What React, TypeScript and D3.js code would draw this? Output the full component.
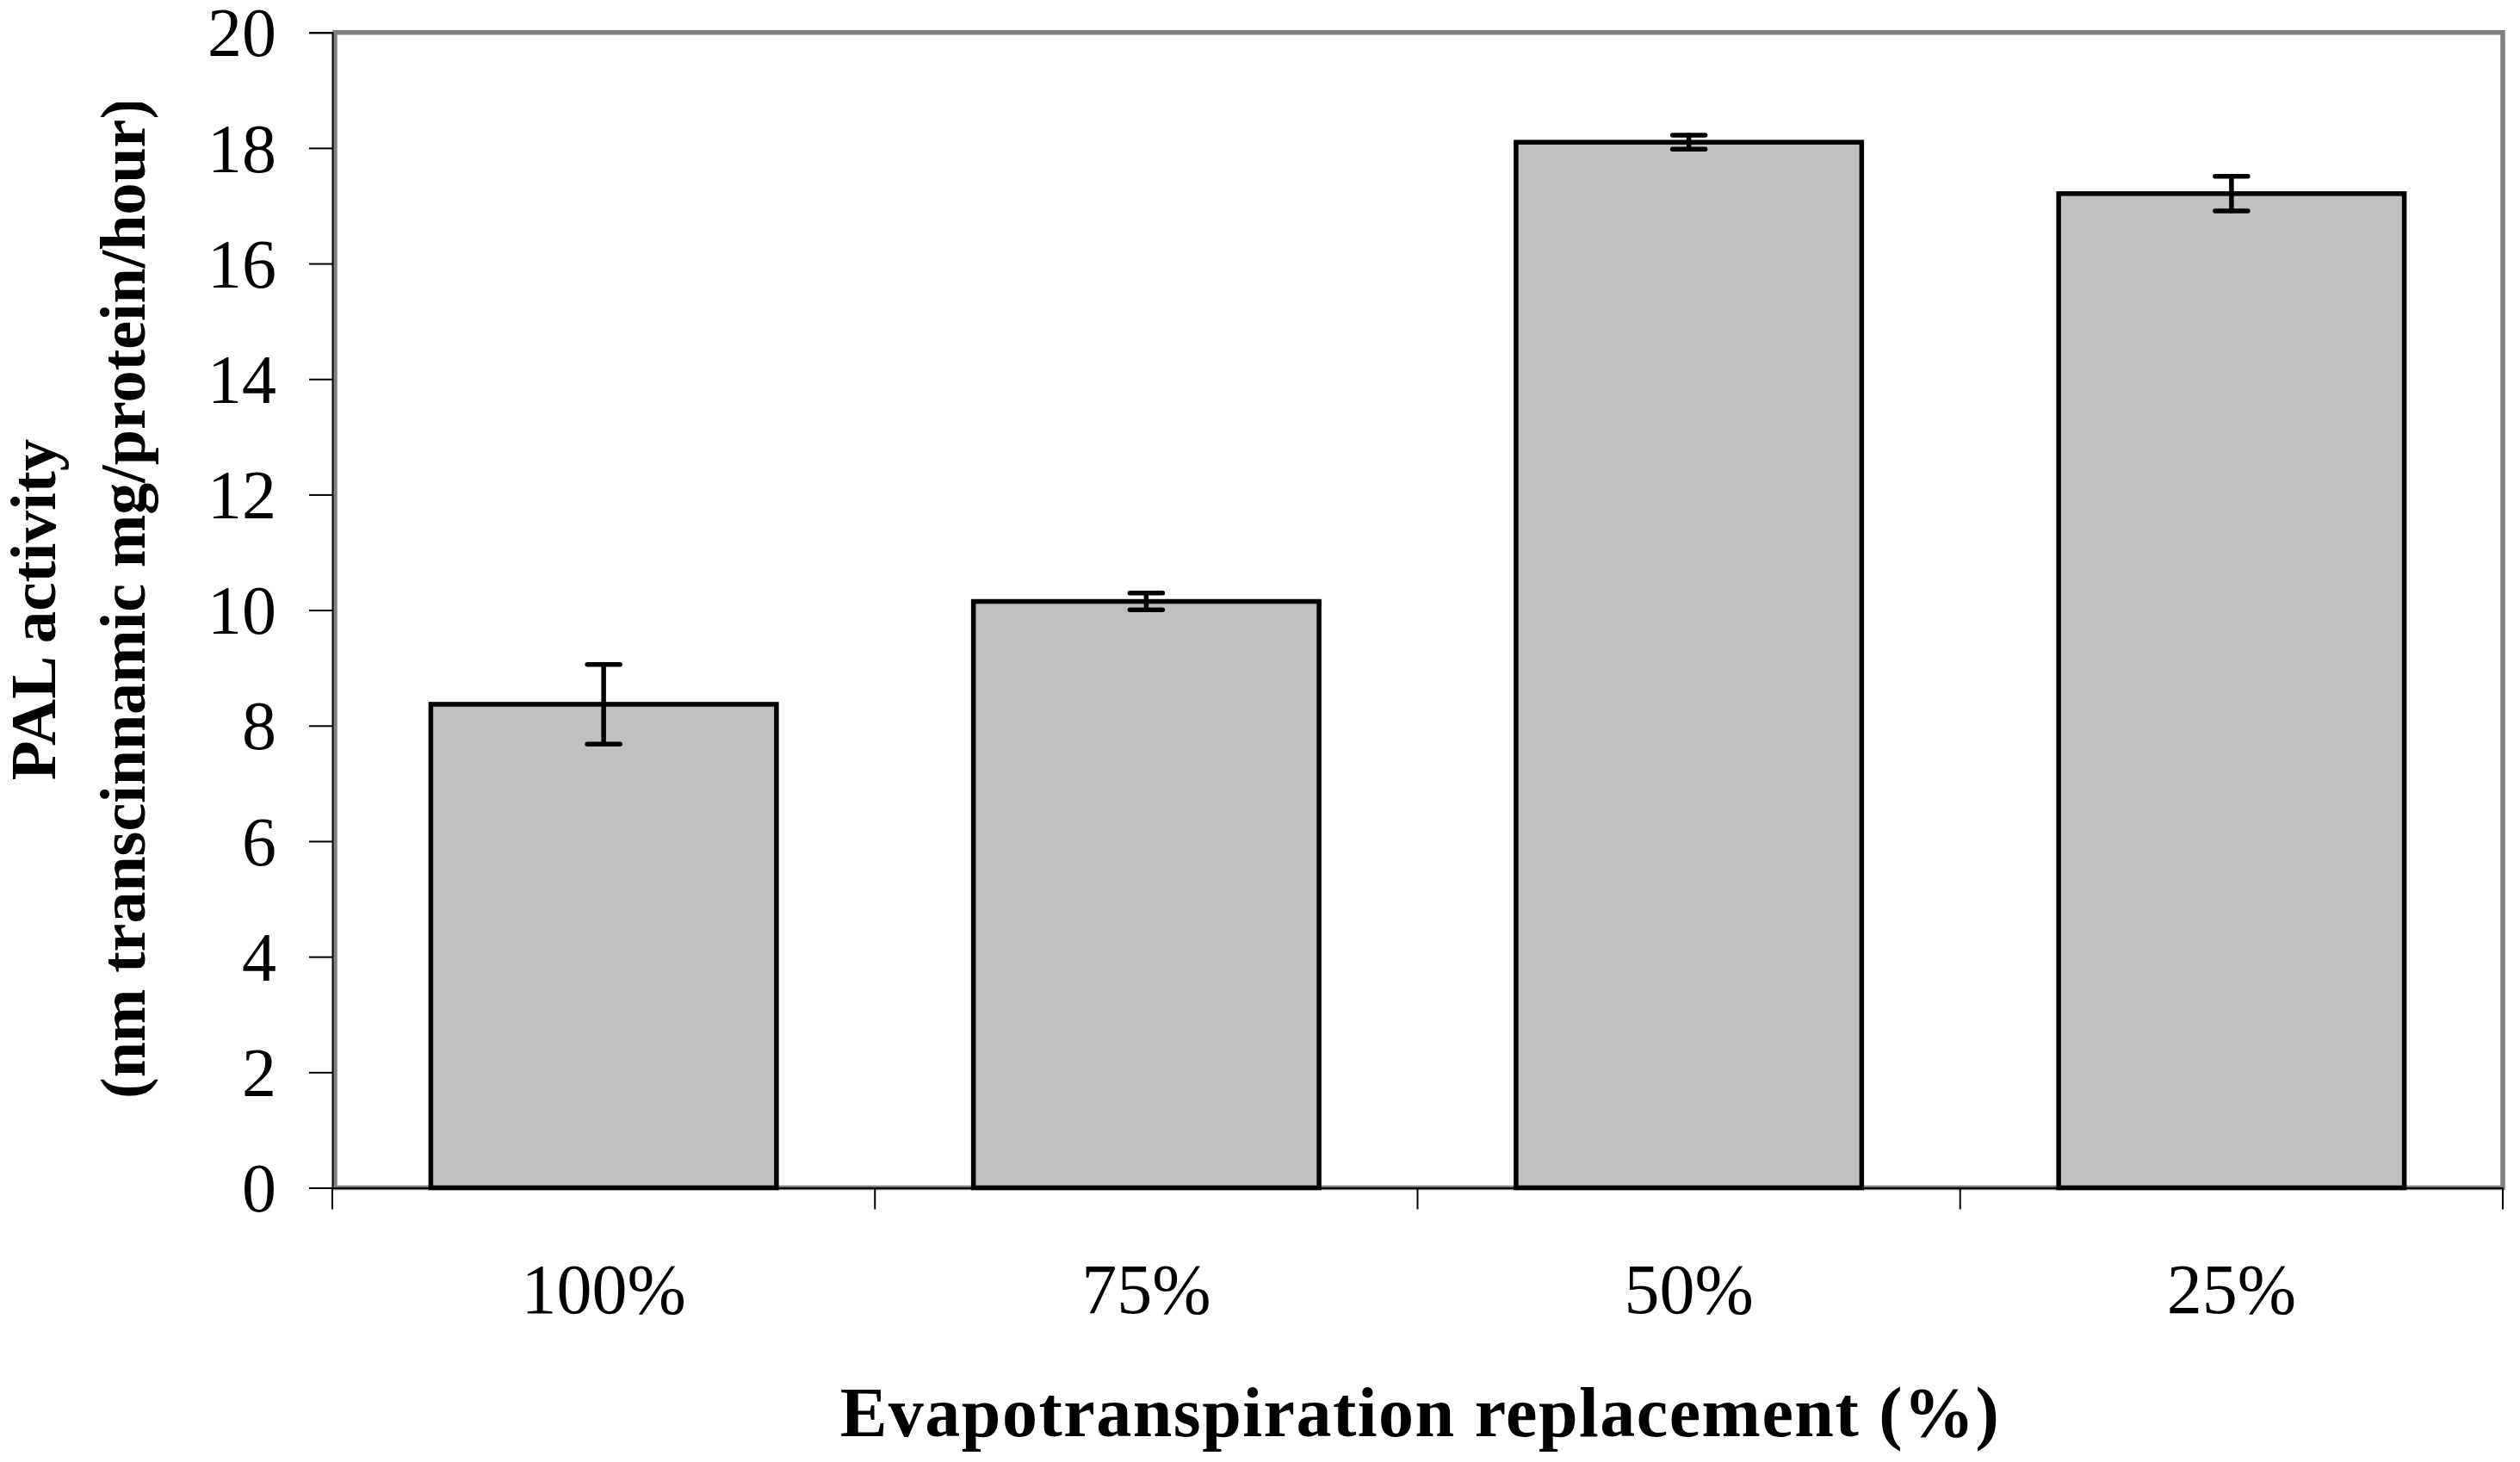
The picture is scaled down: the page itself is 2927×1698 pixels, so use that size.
import * as d3 from "d3";
import { useEffect, useRef } from "react";

const categories = ["100%", "75%", "50%", "25%"];
const means = [8.37, 10.15, 18.1, 17.21];
const errors = [0.69, 0.145, 0.12, 0.3];
const yTicks = [0, 2, 4, 6, 8, 10, 12, 14, 16, 18, 20];

const yTitleLine1 = "PAL activity";
const yTitleLine2 = "(nm transcinnamic mg/protein/hour)";
const xTitle = "Evapotranspiration replacement (%)";

const WIDTH = 2927;
const HEIGHT = 1698;
const FONT = "'Liberation Serif', 'Times New Roman', serif";

export default function App() {
  const svgRef = useRef<SVGSVGElement>(null);

  useEffect(() => {
    if (!svgRef.current) return;
    const svg = d3.select(svgRef.current);
    svg.selectAll("*").remove();

    const left = 386;
    const right = 2907;
    const top = 37.7;
    const bottom = 1379.5;

    const x = d3
      .scaleBand()
      .domain(categories)
      .range([left, right])
      .paddingInner(0.363)
      .paddingOuter(0.1815);

    const y = d3.scaleLinear().domain([0, 20]).range([bottom, top]);

    // plot area border (grey)
    svg
      .append("rect")
      .attr("x", left + 3)
      .attr("y", top)
      .attr("width", right - left - 3)
      .attr("height", bottom - top)
      .attr("fill", "#fff")
      .attr("stroke", "#808080")
      .attr("stroke-width", 5.5);

    // bars
    const data = categories.map((c, i) => ({ c, v: means[i], e: errors[i] }));

    svg
      .selectAll(".bar")
      .data(data)
      .enter()
      .append("rect")
      .attr("class", "bar")
      .attr("x", (d) => x(d.c)!)
      .attr("width", x.bandwidth())
      .attr("y", (d) => y(d.v))
      .attr("height", (d) => y(0) - y(d.v))
      .attr("fill", "#c0c0c0")
      .attr("stroke", "#000")
      .attr("stroke-width", 5.5);

    // error bars
    const capHalf = 19;
    const err = svg
      .selectAll(".err")
      .data(data)
      .enter()
      .append("g")
      .attr("class", "err")
      .attr("transform", (d) => `translate(${x(d.c)! + x.bandwidth() / 2},0)`)
      .attr("stroke", "#000")
      .attr("stroke-width", 5.5)
      .attr("stroke-linecap", "round");

    err
      .append("line")
      .attr("y1", (d) => y(d.v + d.e))
      .attr("y2", (d) => y(d.v - d.e));
    err
      .append("line")
      .attr("x1", -capHalf)
      .attr("x2", capHalf)
      .attr("y1", (d) => y(d.v + d.e))
      .attr("y2", (d) => y(d.v + d.e));
    err
      .append("line")
      .attr("x1", -capHalf)
      .attr("x2", capHalf)
      .attr("y1", (d) => y(d.v - d.e))
      .attr("y2", (d) => y(d.v - d.e));

    // y axis
    const yAxis = d3.axisLeft(y).tickValues(yTicks).tickSize(27).tickPadding(38).tickFormat(d3.format("d"));
    const yg = svg.append("g").attr("transform", `translate(${left},0)`).call(yAxis);
    yg.select(".domain").attr("stroke", "#000").attr("stroke-width", 2);
    yg.selectAll(".tick line").attr("stroke", "#000").attr("stroke-width", 2);
    yg.selectAll(".tick text")
      .attr("dy", "0.34em")
      .style("font-family", FONT)
      .style("font-size", "80px")
      .style("fill", "#000");

    // x axis: labels at band centres, ticks at band boundaries
    const xAxis = d3.axisBottom(x).tickSize(0).tickPadding(0);
    const xg = svg.append("g").attr("transform", `translate(0,${bottom})`).call(xAxis);
    xg.select(".domain").attr("stroke", "#000").attr("stroke-width", 2);
    xg.selectAll(".tick text")
      .attr("y", 1525 - bottom)
      .attr("dy", null)
      .style("font-family", FONT)
      .style("font-size", "82px")
      .style("fill", "#000");

    const boundaries = d3.range(categories.length + 1).map((i) => x.range()[0] + i * x.step());
    svg
      .selectAll(".xtick")
      .data(boundaries)
      .enter()
      .append("line")
      .attr("class", "xtick")
      .attr("x1", (d) => d)
      .attr("x2", (d) => d)
      .attr("y1", bottom)
      .attr("y2", bottom + 25)
      .attr("stroke", "#000")
      .attr("stroke-width", 2);

    // axis titles
    svg
      .append("text")
      .attr("x", (left + right) / 2 + 3)
      .attr("y", 1668)
      .attr("text-anchor", "middle")
      .style("font-family", FONT)
      .style("font-weight", "bold")
      .style("font-size", "82px")
      .style("letter-spacing", "1.5px")
      .text(xTitle);

    const defs = svg.append("defs");
    defs
      .append("clipPath")
      .attr("id", "ytitle-clip")
      .append("rect")
      .attr("x", 0)
      .attr("y", 119)
      .attr("width", 300)
      .attr("height", HEIGHT);

    svg
      .append("text")
      .attr("transform", "translate(64,708) rotate(-90)")
      .attr("text-anchor", "middle")
      .style("font-family", FONT)
      .style("font-weight", "bold")
      .style("font-size", "75px")
      .text(yTitleLine1);
    svg
      .append("g")
      .attr("clip-path", "url(#ytitle-clip)")
      .append("text")
      .attr("transform", "translate(168,1276) rotate(-90)")
      .attr("text-anchor", "start")
      .style("font-family", FONT)
      .style("font-weight", "bold")
      .style("font-size", "74px")
      .text(yTitleLine2);
  }, []);

  return (
    <div style={{ position: "absolute", left: 0, top: 0, background: "#fff" }}>
      <svg ref={svgRef} width={WIDTH} height={HEIGHT} style={{ display: "block" }} />
    </div>
  );
}
